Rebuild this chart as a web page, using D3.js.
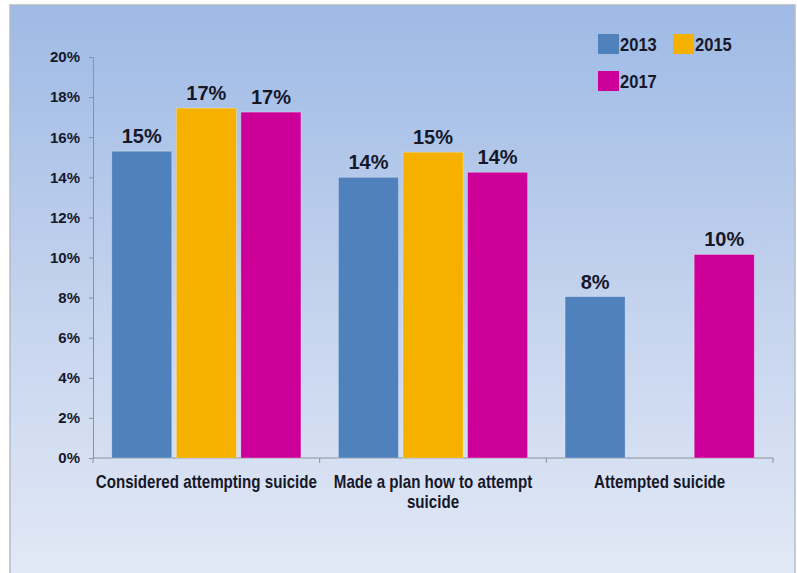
<!DOCTYPE html>
<html>
<head>
<meta charset="utf-8">
<script src="https://cdn.jsdelivr.net/npm/d3@7"></script>
<style>
  html, body { margin: 0; padding: 0; background: #ffffff; }
  svg { display: block; }
  text { font-family: "Liberation Sans", Arial, sans-serif; font-weight: bold; fill: #16182a; }
</style>
</head>
<body>
<svg id="chart" width="797" height="573"></svg>
<script>
// Suicide-related behaviours by survey year (percent of students)
const categories = [
  ["Considered attempting suicide"],
  ["Made a plan how to attempt", "suicide"],
  ["Attempted suicide"]
];
const years = ["2013", "2015", "2017"];
const values2013 = [15.3, 14.0, 8.05];
const values2015 = [17.45, 15.25, null];
const values2017 = [17.25, 14.25, 10.15];
const yTicks = [0, 2, 4, 6, 8, 10, 12, 14, 16, 18, 20];
const colors = ["#4f81bd", "#f5b000", "#cc0099"];

const series = [values2013, values2015, values2017];
const svg = d3.select("#chart");

// panel background with vertical gradient
const defs = svg.append("defs");
const grad = defs.append("linearGradient").attr("id", "bg").attr("x1", 0).attr("y1", 0).attr("x2", 0).attr("y2", 1);
grad.append("stop").attr("offset", "0%").attr("stop-color", "#9ebae5");
grad.append("stop").attr("offset", "55%").attr("stop-color", "#c6d4ee");
grad.append("stop").attr("offset", "100%").attr("stop-color", "#e2e9f6");

svg.append("rect").attr("x", 10).attr("y", 5).attr("width", 785).attr("height", 570)
  .attr("fill", "url(#bg)").attr("stroke", "#b4bcc8").attr("stroke-width", 1.5);

const x0 = 93, x1 = 773, yBottom = 458, yTop = 57;

const x = d3.scaleBand().domain(d3.range(categories.length)).range([x0, x1]).paddingInner(0).paddingOuter(0);
const xs = d3.scaleBand().domain(d3.range(years.length)).range([0, x.bandwidth()]).paddingInner(0.07).paddingOuter(0.29);
const y = d3.scaleLinear().domain([0, 20]).range([yBottom, yTop]);

// y axis
const yAxis = svg.append("g").attr("transform", `translate(${x0},0)`)
  .call(d3.axisLeft(y).tickValues(yTicks).tickFormat(d => d + "%").tickSize(4).tickPadding(9));
yAxis.select(".domain").attr("stroke", "#8c929c");
yAxis.selectAll(".tick line").attr("stroke", "#8c929c");
yAxis.selectAll(".tick text").attr("font-size", 15).attr("fill", "#16182a")
  .attr("font-family", "Liberation Sans, Arial, sans-serif").attr("font-weight", "bold");

// x axis baseline with group separators
const xAxis = svg.append("g").attr("transform", `translate(0,${yBottom})`);
xAxis.append("line").attr("x1", x0).attr("x2", x1).attr("stroke", "#8c929c");
const seps = d3.range(categories.length + 1).map(i => i < categories.length ? x(i) : x1);
xAxis.selectAll(".sep").data(seps).join("line")
  .attr("x1", d => d).attr("x2", d => d).attr("y1", 0).attr("y2", 5).attr("stroke", "#8c929c");

// bars and value labels
const bars = [];
series.forEach((vals, si) => {
  vals.forEach((v, ci) => {
    if (v != null) bars.push({ si, ci, v });
  });
});

svg.append("g").selectAll("rect").data(bars).join("rect")
  .attr("x", d => x(d.ci) + xs(d.si))
  .attr("y", d => y(d.v))
  .attr("width", xs.bandwidth())
  .attr("height", d => y(0) - y(d.v))
  .attr("fill", d => colors[d.si])
  .attr("stroke", "rgba(255,255,255,0.35)").attr("stroke-width", 0.8);

svg.append("g").selectAll("text").data(bars).join("text")
  .attr("x", d => x(d.ci) + xs(d.si) + xs.bandwidth() / 2)
  .attr("y", d => y(d.v) - 8)
  .attr("text-anchor", "middle")
  .attr("font-size", 20)
  .text(d => Math.round(d.v) + "%");

// category labels, set in a condensed face (horizontally squeezed)
const catG = svg.append("g");
const squeeze = 0.865;
categories.forEach((lines, ci) => {
  const cx = x(ci) + x.bandwidth() / 2;
  const t = catG.append("text")
    .attr("transform", `translate(${cx},488) scale(${squeeze},1)`)
    .attr("text-anchor", "middle")
    .attr("font-size", 17.5);
  lines.forEach((ln, li) => {
    t.append("tspan").attr("x", 0).attr("dy", li === 0 ? 0 : 20).text(ln);
  });
});

// legend
const legendItems = [
  { label: years[0], color: colors[0], lx: 598, ly: 34 },
  { label: years[1], color: colors[1], lx: 673, ly: 34 },
  { label: years[2], color: colors[2], lx: 598, ly: 71 }
];
const lg = svg.append("g").selectAll("g").data(legendItems).join("g")
  .attr("transform", d => `translate(${d.lx},${d.ly})`);
lg.append("rect").attr("width", 21).attr("height", 20).attr("fill", d => d.color);
lg.append("text").attr("transform", "translate(22,16.5) scale(0.92,1)").attr("font-size", 18).text(d => d.label);
</script>
</body>
</html>
